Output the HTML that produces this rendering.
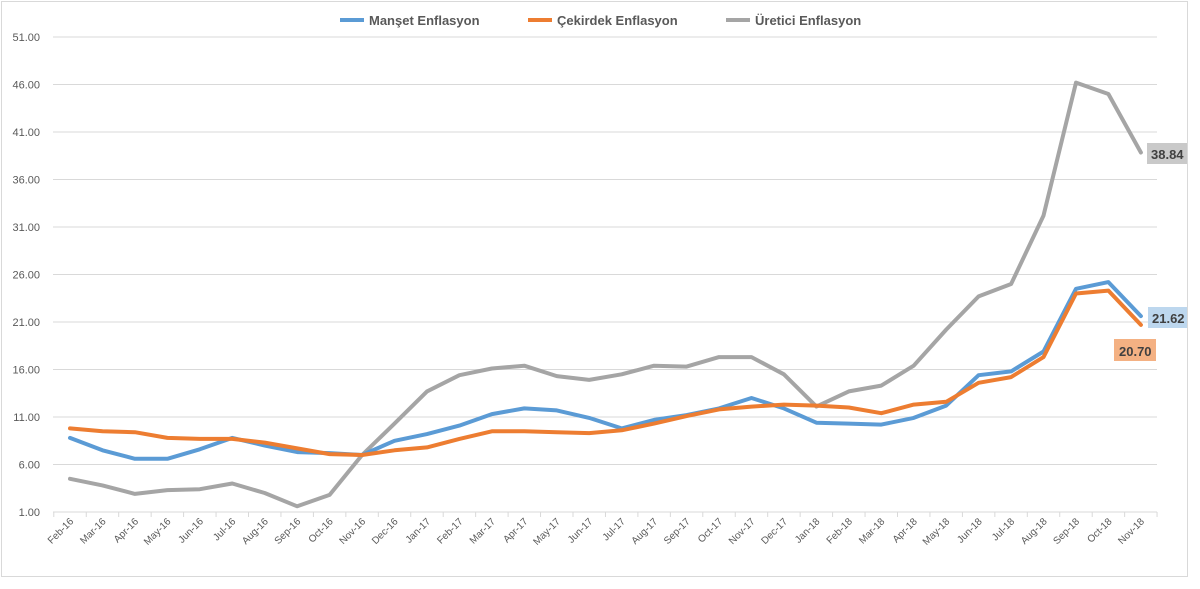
<!DOCTYPE html>
<html><head><meta charset="utf-8"><style>
body{margin:0;background:#fff;}
svg{display:block;font-family:"Liberation Sans",Arial,sans-serif;}
</style></head><body>
<svg id="c" width="1200" height="589" xmlns="http://www.w3.org/2000/svg">
<rect x="1.5" y="1.5" width="1186" height="575" fill="#fff" stroke="#d9d9d9"/>
<g id="grid"></g>
<g id="lines"></g>
<g font-size="13" font-weight="bold" fill="#595959">
<line x1="340" y1="20" x2="364" y2="20" stroke="#5b9bd5" stroke-width="4"/>
<text x="369" y="25">Manşet Enflasyon</text>
<line x1="528" y1="20" x2="552" y2="20" stroke="#ed7d31" stroke-width="4"/>
<text x="557" y="25">Çekirdek Enflasyon</text>
<line x1="726" y1="20" x2="750" y2="20" stroke="#a5a5a5" stroke-width="4"/>
<text x="755" y="25">Üretici Enflasyon</text>
</g>
<rect x="1147" y="143" width="40" height="21" fill="#c9c9c9"/>
<text x="1151" y="159" font-size="13" font-weight="bold" fill="#404040">38.84</text>
<rect x="1148" y="307" width="39" height="21" fill="#bdd7ee"/>
<text x="1152" y="323" font-size="13" font-weight="bold" fill="#404040">21.62</text>
<rect x="1114" y="339" width="42" height="22" fill="#f4b183"/>
<text x="1119" y="356" font-size="13" font-weight="bold" fill="#404040">20.70</text>
</svg>
<script>
var NS="http://www.w3.org/2000/svg";
function y(v){return 512-(v-1)*9.5;}
function x(i){return 70+i*32.45;}
var g=document.getElementById("grid"),L=document.getElementById("lines");
function el(p,t,a,txt){var e=document.createElementNS(NS,t);for(var k in a)e.setAttribute(k,a[k]);if(txt)e.textContent=txt;p.appendChild(e);return e;}
for(var v=1;v<=51;v+=5){var yy=y(v);
 el(g,"line",{x1:53,x2:1157,y1:yy,y2:yy,stroke:"#d9d9d9","stroke-width":1});
 el(g,"text",{x:40,y:yy+4,"font-size":11,fill:"#595959","text-anchor":"end"},v.toFixed(2));}
var m=["Feb","Mar","Apr","May","Jun","Jul","Aug","Sep","Oct","Nov","Dec","Jan"];
for(var i=0;i<34;i++){var mm=m[i%12];var yr=16+Math.floor((i+1)/12);
 el(g,"line",{x1:x(i)-16.2,x2:x(i)-16.2,y1:512,y2:517,stroke:"#d9d9d9"});
 el(g,"text",{x:x(i)+4,y:522,"font-size":10,fill:"#595959","text-anchor":"end",transform:"rotate(-45 "+(x(i)+4)+" 522)"},mm+"-"+yr);}
el(g,"line",{x1:x(33)+16.2,x2:x(33)+16.2,y1:512,y2:517,stroke:"#d9d9d9"});
var U=[4.5,3.8,2.9,3.3,3.4,4.0,3.0,1.6,2.8,7.0,10.3,13.7,15.4,16.1,16.4,15.3,14.9,15.5,16.4,16.3,17.3,17.3,15.5,12.1,13.7,14.3,16.4,20.2,23.7,25.0,32.2,46.2,45.0,38.84];
var C=[9.8,9.5,9.4,8.8,8.7,8.7,8.3,7.7,7.1,7.0,7.5,7.8,8.7,9.5,9.5,9.4,9.3,9.6,10.3,11.1,11.8,12.1,12.3,12.2,12.0,11.4,12.3,12.6,14.6,15.2,17.3,24.0,24.3,20.70];
var M=[8.8,7.5,6.6,6.6,7.6,8.8,8.0,7.3,7.2,7.0,8.5,9.2,10.1,11.3,11.9,11.7,10.9,9.8,10.7,11.2,11.9,13.0,11.9,10.4,10.3,10.2,10.9,12.2,15.4,15.8,17.9,24.5,25.2,21.62];
function line(d,c){el(L,"polyline",{points:d.map(function(v,i){return x(i).toFixed(1)+","+y(v).toFixed(1)}).join(" "),fill:"none",stroke:c,"stroke-width":4,"stroke-linejoin":"round","stroke-linecap":"round"});}
line(U,"#a5a5a5");line(M,"#5b9bd5");line(C,"#ed7d31");
</script>
</body></html>
